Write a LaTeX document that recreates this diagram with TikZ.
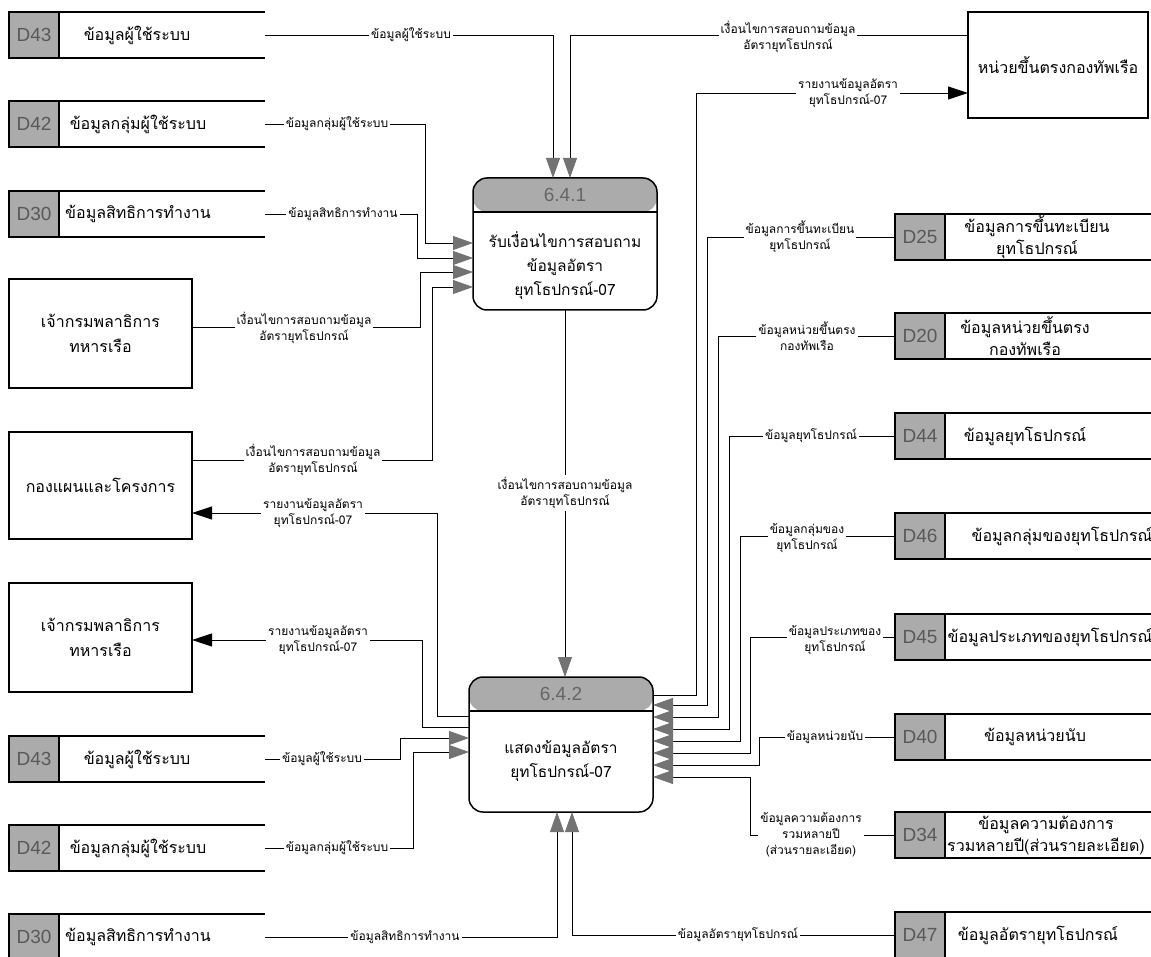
\documentclass[tikz,border=0pt]{standalone}
\usepackage{fontspec}
\setmainfont[Script=Thai]{Loma}
\newfontfamily\idfont{Liberation Sans}
\usetikzlibrary{arrows.meta,calc}

\tikzset{
 storebody/.style={minimum width=256pt, minimum height=46pt, inner sep=0pt, outer sep=0pt},
 storeid/.style={draw, line width=1.4pt, fill=black!33, minimum width=50pt, minimum height=46pt, inner sep=0pt, outer sep=0pt, font=\idfont\fontsize{19}{21}\selectfont, text=black!65},
 storeline/.style={line width=1.6pt},
 storetxt/.style={align=center, font=\fontsize{16}{22}\selectfont, inner sep=0pt},
 entity/.style={draw, line width=1.5pt, align=center, font=\fontsize{16}{25}\selectfont, inner sep=0pt, outer sep=0pt},
 proc/.style={draw, line width=1.5pt, rounded corners=14pt, minimum width=184pt, inner sep=0pt, outer sep=0pt,
   path picture={\fill[black!33] (path picture bounding box.north west) rectangle ([yshift=-34pt]path picture bounding box.north east);
     \draw[line width=1.4pt] ([yshift=-34pt]path picture bounding box.north west) -- ([yshift=-34pt]path picture bounding box.north east);}},
 procid/.style={font=\idfont\fontsize{19}{21}\selectfont, text=black!60, inner sep=0pt},
 proctxt/.style={align=center, font=\fontsize{15.5}{24}\selectfont, inner sep=0pt},
 flow/.style={line width=0.8pt},
 gtip/.style={-{Triangle[length=20pt,width=14pt,color=black!55]}},
 btip/.style={-{Triangle[length=20pt,width=13pt,color=black]}},
 flab/.style={fill=white, inner sep=2pt, align=center, font=\fontsize{12}{16}\selectfont}
}

\newcommand\DStore[7]{%
 \node[storebody, anchor=west] (#1) at (#3,#4) {};
 \draw[storeline] (#1.north east) -- (#1.north west) -- (#1.south west) -- (#1.south east);
 \node[storeid, anchor=west] (#1id) at (#3,#4) {#2};
 \node[storetxt] (#1txt) at (#5,#6) {#7};
}

\begin{document}
\begin{tikzpicture}[x=1pt,y=-1pt]
\useasboundingbox (0,0) rectangle (1151,957);
\clip (0,0) rectangle (1151,957);

% left data stores
\DStore{d43a}{D43}{9}{35}{137}{35}{ข้อมูลผู้ใช้ระบบ}
\DStore{d42a}{D42}{9}{124}{138}{124}{ข้อมูลกลุ่มผู้ใช้ระบบ}
\DStore{d30a}{D30}{9}{214}{138}{214}{ข้อมูลสิทธิการทำงาน}
\DStore{d43b}{D43}{9}{759}{137}{759}{ข้อมูลผู้ใช้ระบบ}
\DStore{d42b}{D42}{9}{848}{138}{848}{ข้อมูลกลุ่มผู้ใช้ระบบ}
\DStore{d30b}{D30}{9}{937}{138}{937}{ข้อมูลสิทธิการทำงาน}

% right data stores
\DStore{d25}{D25}{895}{237}{1037}{237}{ข้อมูลการขึ้นทะเบียน\\ยุทโธปกรณ์}
\DStore{d20}{D20}{895}{336}{1025}{336}{ข้อมูลหน่วยขึ้นตรง\\กองทัพเรือ}
\DStore{d44}{D44}{895}{436}{1025}{436}{ข้อมูลยุทโธปกรณ์}
\DStore{d46}{D46}{895}{536}{1062}{536}{ข้อมูลกลุ่มของยุทโธปกรณ์}
\DStore{d45}{D45}{895}{637}{1050}{637}{ข้อมูลประเภทของยุทโธปกรณ์}
\DStore{d40}{D40}{895}{737}{1035}{737}{ข้อมูลหน่วยนับ}
\DStore{d34}{D34}{895}{835}{1046}{835}{ข้อมูลความต้องการ\\รวมหลายปี(ส่วนรายละเอียด)}
\DStore{d47}{D47}{895}{935}{1038}{935}{ข้อมูลอัตรายุทโธปกรณ์}

% external entities
\node[entity, minimum width=183pt, minimum height=109pt] (e1) at (100.5,333.5) {เจ้ากรมพลาธิการ\\ทหารเรือ};
\node[entity, minimum width=183pt, minimum height=107pt] (e2) at (100.5,485.5) {กองแผนและโครงการ};
\node[entity, minimum width=183pt, minimum height=109pt] (e3) at (100.5,637.5) {เจ้ากรมพลาธิการ\\ทหารเรือ};
\node[entity, minimum width=180pt, minimum height=106pt] (hq) at (1058,65) {หน่วยขึ้นตรงกองทัพเรือ};

% processes
\node[proc, minimum height=132pt] (p1) at (565,244) {};
\node[procid] (p1id) at ([yshift=-17pt]p1.north) {6.4.1};
\node[proctxt] (p1txt) at ([yshift=-88pt]p1.north) {รับเงื่อนไขการสอบถาม\\ข้อมูลอัตรา\\ยุทโธปกรณ์-07};

\node[proc, minimum height=135pt] (p2) at (561,744.5) {};
\node[procid] (p2id) at ([yshift=-17pt]p2.north) {6.4.2};
\node[proctxt] (p2txt) at ([yshift=-84pt]p2.north) {แสดงข้อมูลอัตรา\\ยุทโธปกรณ์-07};

% flows into 6.4.1
\draw[flow,gtip] (d43a.east) -| ([xshift=-12pt]p1.north);
\draw[flow,gtip] ([yshift=30pt]hq.west) -| ([xshift=5pt]p1.north);
\draw[flow,gtip] (d42a.east) -| ([xshift=-48pt,yshift=1pt]p1.west) -- ([yshift=1pt]p1.west);
\draw[flow,gtip] (d30a.east) -| ([xshift=-56pt,yshift=-14pt]p1.west) -- ([yshift=-14pt]p1.west);
\draw[flow,gtip] ([yshift=6.5pt]e1.east) -| ([xshift=-53pt,yshift=-28pt]p1.west) -- ([yshift=-28pt]p1.west);
\draw[flow,gtip] ([yshift=25.5pt]e2.east) -| ([xshift=-41pt,yshift=-43pt]p1.west) -- ([yshift=-43pt]p1.west);

% 6.4.1 -> 6.4.2
\draw[flow,gtip] (p1.south) -- (p1.south |- p2.north);

% flows out of 6.4.2
\draw[flow,btip] ([yshift=28.5pt]p2.west) -- ([xshift=-32pt,yshift=28.5pt]p2.west) |- ([yshift=-27.5pt]e2.east);
\draw[flow,btip] ([yshift=17.5pt]p2.west) -- ([xshift=-47pt,yshift=17.5pt]p2.west) |- ([yshift=-2.5pt]e3.east);
\draw[flow,btip] ([yshift=49.5pt]p2.east) -| ([xshift=-272pt,yshift=-28pt]hq.west) -- ([yshift=-28pt]hq.west);

% flows into 6.4.2 from the left and bottom
\draw[flow,gtip] (d43b.east) -| ([xshift=-69pt,yshift=6.5pt]p2.west) -- ([yshift=6.5pt]p2.west);
\draw[flow,gtip] (d42b.east) -| ([xshift=-56pt,yshift=-7.5pt]p2.west) -- ([yshift=-7.5pt]p2.west);
\draw[flow,gtip] (d30b.east) -| ([xshift=-4pt]p2.south);
\draw[flow,gtip] (d47.west) -| ([xshift=11pt]p2.south);

% flows into 6.4.2 from the right
\draw[flow,gtip] (d25.west) -| ([xshift=54pt,yshift=39.5pt]p2.east) -- ([yshift=39.5pt]p2.east);
\draw[flow,gtip] (d20.west) -| ([xshift=65pt,yshift=27.5pt]p2.east) -- ([yshift=27.5pt]p2.east);
\draw[flow,gtip] (d44.west) -| ([xshift=76pt,yshift=15.5pt]p2.east) -- ([yshift=15.5pt]p2.east);
\draw[flow,gtip] (d46.west) -| ([xshift=87pt,yshift=3.5pt]p2.east) -- ([yshift=3.5pt]p2.east);
\draw[flow,gtip] (d45.west) -| ([xshift=97pt,yshift=-8.5pt]p2.east) -- ([yshift=-8.5pt]p2.east);
\draw[flow,gtip] (d40.west) -| ([xshift=106pt,yshift=-20.5pt]p2.east) -- ([yshift=-20.5pt]p2.east);
\draw[flow,gtip] (d34.west) -| ([xshift=97pt,yshift=-32.5pt]p2.east) -- ([yshift=-32.5pt]p2.east);

% flow labels
\node[flab] (l1) at (411,35) {ข้อมูลผู้ใช้ระบบ};
\node[flab] (l2) at (788,37) {เงื่อนไขการสอบถามข้อมูล\\อัตรายุทโธปกรณ์};
\node[flab] (l3) at (848,93) {รายงานข้อมูลอัตรา\\ยุทโธปกรณ์-07};
\node[flab] (l4) at (337,124) {ข้อมูลกลุ่มผู้ใช้ระบบ};
\node[flab] (l5) at (343,214) {ข้อมูลสิทธิการทำงาน};
\node[flab] (l6) at (304,328) {เงื่อนไขการสอบถามข้อมูล\\อัตรายุทโธปกรณ์};
\node[flab] (l7) at (313,460) {เงื่อนไขการสอบถามข้อมูล\\อัตรายุทโธปกรณ์};
\node[flab] (l8) at (565,493) {เงื่อนไขการสอบถามข้อมูล\\อัตรายุทโธปกรณ์};
\node[flab] (l9) at (313,513) {รายงานข้อมูลอัตรา\\ยุทโธปกรณ์-07};
\node[flab] (l10) at (318,640) {รายงานข้อมูลอัตรา\\ยุทโธปกรณ์-07};
\node[flab] (l11) at (322,759) {ข้อมูลผู้ใช้ระบบ};
\node[flab] (l12) at (337,848) {ข้อมูลกลุ่มผู้ใช้ระบบ};
\node[flab] (l13) at (405,937) {ข้อมูลสิทธิการทำงาน};
\node[flab] (l14) at (738,935) {ข้อมูลอัตรายุทโธปกรณ์};
\node[flab] (l15) at (800,237) {ข้อมูลการขึ้นทะเบียน\\ยุทโธปกรณ์};
\node[flab] (l16) at (807,336) {ข้อมูลหน่วยขึ้นตรง\\กองทัพเรือ};
\node[flab] (l17) at (811,436) {ข้อมูลยุทโธปกรณ์};
\node[flab] (l18) at (807,538) {ข้อมูลกลุ่มของ\\ยุทโธปกรณ์};
\node[flab] (l19) at (835,640) {ข้อมูลประเภทของ\\ยุทโธปกรณ์};
\node[flab] (l20) at (825,737) {ข้อมูลหน่วยนับ};
\node[flab] (l21) at (811,835) {ข้อมูลความต้องการ\\รวมหลายปี\\(ส่วนรายละเอียด)};
\end{tikzpicture}
\end{document}
